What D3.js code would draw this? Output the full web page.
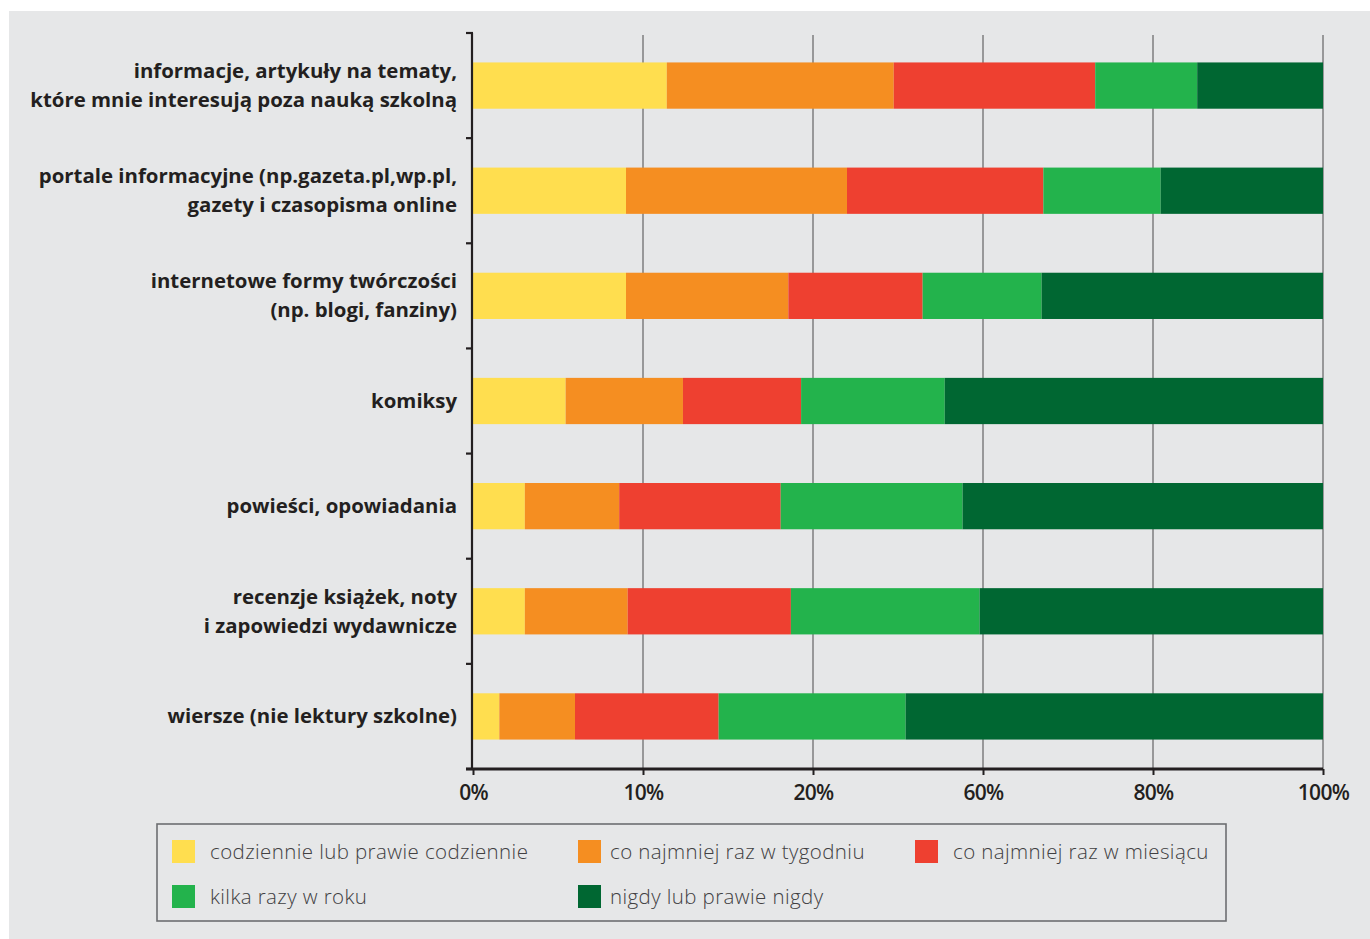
<!DOCTYPE html>
<html><head><meta charset="utf-8">
<script src="https://cdn.jsdelivr.net/npm/d3@7"></script>
<style>body{margin:0;background:#fff}svg{display:block}</style>
</head><body><svg id="c" width="1370" height="939"></svg>
<script>
const categories = [
  ["informacje, artykuły na tematy,", "które mnie interesują poza nauką szkolną"],
  ["portale informacyjne (np.gazeta.pl,wp.pl,", "gazety i czasopisma online"],
  ["internetowe formy twórczości", "(np. blogi, fanziny)"],
  ["komiksy"],
  ["powieści, opowiadania"],
  ["recenzje książek, noty", "i zapowiedzi wydawnicze"],
  ["wiersze (nie lektury szkolne)"]
];
const seriesNames = ["codziennie lub prawie codziennie","co najmniej raz w tygodniu","co najmniej raz w miesiącu","kilka razy w roku","nigdy lub prawie nigdy"];
const daily   = [22.8, 18.0, 18.0, 10.9, 6.1, 6.1, 3.1];
const weekly  = [26.7, 26.0, 19.1, 13.8, 11.1, 12.1, 8.9];
const monthly = [23.7, 23.1, 15.8, 13.9, 19.0, 19.2, 16.9];
const yearly  = [12.0, 13.8, 14.0, 16.9, 21.4, 22.2, 22.0];
const never   = [14.8, 19.1, 33.1, 44.5, 42.4, 40.4, 49.1];
const tickValues = [0, 20, 40, 60, 80, 100];
const tickLabels = ["0%", "10%", "20%", "60%", "80%", "100%"];
const colors = ["#ffde4f", "#f58e21", "#ee4030", "#23b34c", "#006732"];

const svg = d3.select("#c");
svg.append("rect").attr("x",9).attr("y",11).attr("width",1361).attr("height",928).attr("fill","#e6e7e8");

const keys = categories.map((c,i)=>"c"+i);
const x = d3.scaleLinear().domain([0,100]).range([473,1323]);
const y = d3.scaleBand().domain(keys).range([33,769]).paddingInner(0.56).paddingOuter(0.28);

const rows = keys.map((k,i)=>({key:k, v:[daily[i],weekly[i],monthly[i],yearly[i],never[i]]}));
const stack = d3.stack().keys([0,1,2,3,4]).value((d,j)=>d.v[j]);
const series = stack(rows);

// gridlines
svg.append("g").selectAll("line").data(tickValues.slice(1)).join("line")
  .attr("x1",d=>x(d)).attr("x2",d=>x(d)).attr("y1",35).attr("y2",769)
  .attr("stroke","#858585").attr("stroke-width",1.6);

// bars
svg.append("g").selectAll("g").data(series).join("g").attr("fill",(d,i)=>colors[i])
  .selectAll("rect").data(d=>d).join("rect")
  .attr("x",d=>x(d[0])).attr("width",d=>x(d[1])-x(d[0]))
  .attr("y",d=>y(d.data.key)).attr("height",y.bandwidth());

// y axis
const step = y.step();
const y0 = y.range()[0];
const ax = svg.append("g").attr("stroke","#231f20");
ax.append("line").attr("x1",472).attr("x2",472).attr("y1",y0).attr("y2",769).attr("stroke-width",2.2);
ax.selectAll("line.t").data(d3.range(keys.length+1)).join("line").attr("class","t")
  .attr("x1",466).attr("x2",473).attr("y1",i=>y0+i*step).attr("y2",i=>y0+i*step).attr("stroke-width",2.2);

// x axis
const xAxis = d3.axisBottom(x).tickValues(tickValues).tickFormat((d,i)=>tickLabels[i]).tickSize(6).tickSizeOuter(0);
const gx = svg.append("g").attr("transform","translate(0,769)").call(xAxis);
gx.select(".domain").attr("stroke","#231f20").attr("stroke-width",3).attr("d","M466,0H1323");
gx.selectAll(".tick line").attr("stroke","#231f20").attr("stroke-width",2);
gx.selectAll(".tick text").attr("fill","#231f20").attr("font-family","'Open Sans', sans-serif")
  .attr("font-weight",600).attr("font-size",21).attr("letter-spacing",-0.7).attr("y",11).attr("dy","0.95em");

// category labels
const lab = svg.append("g").attr("font-family","'Open Sans', sans-serif").attr("font-weight",700)
  .attr("font-size",20.4).attr("fill","#231f20").attr("text-anchor","end");
categories.forEach((lines,i)=>{
  const cy = y(keys[i]) + y.bandwidth()/2;
  const n = lines.length;
  lines.forEach((t,j)=>{
    lab.append("text").attr("x",457).attr("y",cy + 7 + (j-(n-1)/2)*29).text(t);
  });
});

// legend
svg.append("rect").attr("x",157).attr("y",824).attr("width",1069).attr("height",97)
  .attr("fill","none").attr("stroke","#6d6e71").attr("stroke-width",1.6);
const legPos = [[172,840,210],[578,840,610],[915,840,953],[172,885,210],[578,885,610]];
const lg = svg.append("g");
seriesNames.forEach((s,i)=>{
  const [lx,ly,tx] = legPos[i];
  lg.append("rect").attr("x",lx).attr("y",ly).attr("width",23).attr("height",23).attr("fill",colors[i]);
  lg.append("text").attr("x",tx).attr("y",ly+19).attr("font-family","'Open Sans', sans-serif")
    .attr("font-weight",300).attr("font-size",20.5).attr("fill","#414042").attr("letter-spacing",0.4).text(s);
});
</script></body></html>
